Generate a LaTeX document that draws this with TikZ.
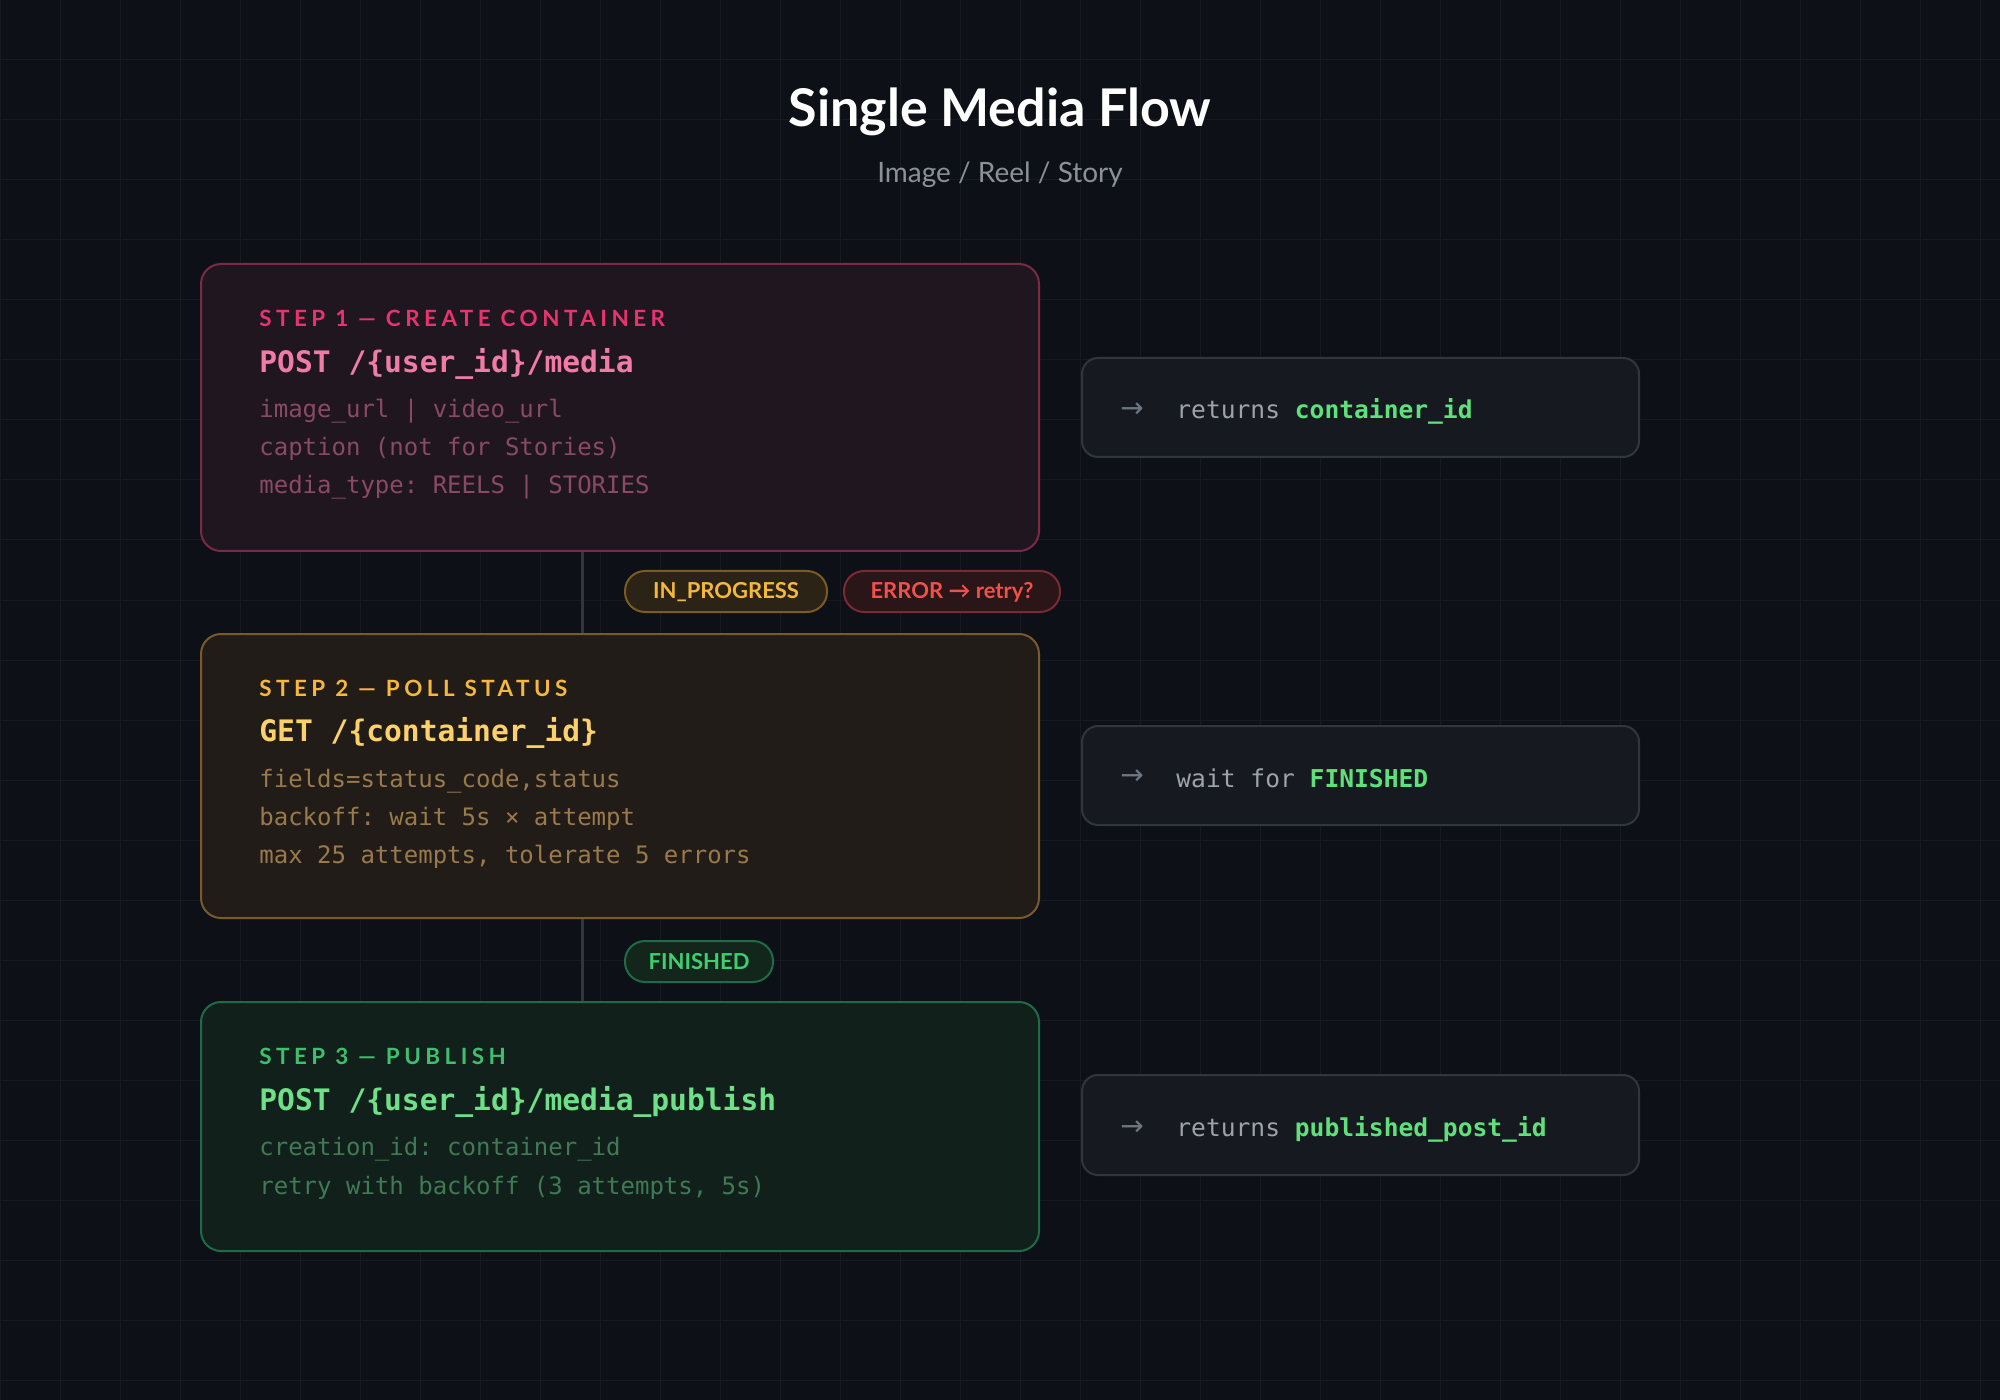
\documentclass[tikz,border=0pt]{standalone}
\usepackage{fontspec}
\setmainfont{Lato}
\setmonofont{DejaVu Sans Mono}
\newfontfamily\spaced[LetterSpace=20]{Lato}
\newfontfamily\arrowfont{DejaVu Sans}
\definecolor{bg}{HTML}{0D1117}
\definecolor{gridc}{HTML}{161B22}
\definecolor{aF}{HTML}{1F1620}\definecolor{aB}{HTML}{7A2A45}\definecolor{aL}{HTML}{E8336D}\definecolor{aE}{HTML}{F07CA5}\definecolor{aD}{HTML}{8A4A62}
\definecolor{bF}{HTML}{211C17}\definecolor{bB}{HTML}{7A5A2A}\definecolor{bL}{HTML}{F5B83D}\definecolor{bE}{HTML}{FCD06A}\definecolor{bD}{HTML}{9A7A4A}
\definecolor{cF}{HTML}{12201C}\definecolor{cB}{HTML}{1F6B45}\definecolor{cL}{HTML}{3FBF6E}\definecolor{cE}{HTML}{6EE087}\definecolor{cD}{HTML}{3F7A55}
\definecolor{rF}{HTML}{161A20}\definecolor{rB}{HTML}{30363D}\definecolor{rT}{HTML}{9DA3AA}\definecolor{rH}{HTML}{5EE07A}\definecolor{rA}{HTML}{6E7681}
\definecolor{pbF}{HTML}{2B2315}\definecolor{pbB}{HTML}{7A5C22}
\definecolor{peF}{HTML}{2A1518}\definecolor{peB}{HTML}{7A2A30}\definecolor{peT}{HTML}{F0524A}
\definecolor{pcF}{HTML}{12261C}\definecolor{pcT}{HTML}{3FCF70}
\begin{document}
\begin{tikzpicture}[x=0.5pt,y=-0.5pt,
  card/.style={rounded corners=10pt,line width=1pt},
  rcard/.style={rounded corners=8pt,line width=1pt,draw=rB,fill=rF},
  lbl/.style={anchor=west,inner sep=0pt,font=\spaced\bfseries\fontsize{11.2pt}{13pt}\selectfont},
  endp/.style={anchor=west,inner sep=0pt,font=\ttfamily\bfseries\fontsize{14.8pt}{17pt}\selectfont},
  det/.style={anchor=west,inner sep=0pt,font=\ttfamily\fontsize{12pt}{14pt}\selectfont},
  rtxt/.style={anchor=west,inner sep=0pt,font=\ttfamily\fontsize{12.3pt}{14pt}\selectfont,text=rT},
  rarr/.style={anchor=west,inner sep=0pt,font=\arrowfont\fontsize{14pt}{16pt}\selectfont,text=rA},
  pill/.style={rounded corners=10pt,line width=1pt},
  ptxt/.style={inner sep=0pt,font=\bfseries\fontsize{11pt}{13pt}\selectfont},
  conn/.style={draw=rB,line width=1.5pt}]
\fill[bg] (0,0) rectangle (2000,1400);
\useasboundingbox (0,0) rectangle (2000,1400);
\foreach \g in {0,60,...,2000} \draw[gridc,line width=0.5pt] (\g,0) -- (\g,1400);
\foreach \g in {0,60,...,1400} \draw[gridc,line width=0.5pt] (0,\g) -- (2000,\g);
\node[text=white,font=\bfseries\fontsize{26pt}{30pt}\selectfont] (title) at (1000,112) {Single Media Flow};
\node[text=rA!80!white,font=\fontsize{14pt}{16pt}\selectfont] (sub) at (1000,175) {Image / Reel / Story};
% connectors
\coordinate (c1a) at (582,551); \coordinate (c1b) at (582,634);
\coordinate (c2a) at (582,918); \coordinate (c2b) at (582,1002);
\draw[conn] (c1a) -- (c1b);
\draw[conn] (c2a) -- (c2b);
% step boxes
\draw[card,draw=aB,fill=aF] (201,264) rectangle (1039,551);
\node[lbl,text=aL] (l1) at (259,318) {STEP 1 — CREATE CONTAINER};
\node[endp,text=aE] (e1) at (259,364) {POST /\{user\_id\}/media};
\node[det,text=aD] (d1a) at (259,411) {image\_url | video\_url};
\node[det,text=aD] (d1b) at (259,449) {caption (not for Stories)};
\node[det,text=aD] (d1c) at (259,487) {media\_type: REELS | STORIES};
\draw[card,draw=bB,fill=bF] (201,634) rectangle (1039,918);
\node[lbl,text=bL] (l2) at (259,688) {STEP 2 — POLL STATUS};
\node[endp,text=bE] (e2) at (259,733) {GET /\{container\_id\}};
\node[det,text=bD] (d2a) at (259,781) {fields=status\_code,status};
\node[det,text=bD] (d2b) at (259,819) {backoff: wait 5s × attempt};
\node[det,text=bD] (d2c) at (259,857) {max 25 attempts, tolerate 5 errors};
\draw[card,draw=cB,fill=cF] (201,1002) rectangle (1039,1251);
\node[lbl,text=cL] (l3) at (259,1056) {STEP 3 — PUBLISH};
\node[endp,text=cE] (e3) at (259,1102) {POST /\{user\_id\}/media\_publish};
\node[det,text=cD] (d3a) at (259,1149) {creation\_id: container\_id};
\node[det,text=cD] (d3b) at (259,1188) {retry with backoff (3 attempts, 5s)};
% right boxes
\draw[rcard] (1082,358) rectangle (1639,457);
\node[rarr] (a1) at (1120,410) {→};
\node[rtxt] (r1) at (1176,411) {returns \textcolor{rH}{\bfseries container\_id}};
\draw[rcard] (1082,726) rectangle (1639,825);
\node[rarr] (a2) at (1120,777) {→};
\node[rtxt] (r2) at (1176,778) {wait for \textcolor{rH}{\bfseries FINISHED}};
\draw[rcard] (1082,1075) rectangle (1639,1175);
\node[rarr] (a3) at (1120,1128) {→};
\node[rtxt] (r3) at (1176,1129) {returns \textcolor{rH}{\bfseries published\_post\_id}};
% pills
\draw[pill,draw=pbB,fill=pbF] (625,571) rectangle (827,612);
\node[ptxt,text=bL] (p1) at (726,592) {IN\_PROGRESS};
\draw[pill,draw=peB,fill=peF] (844,571) rectangle (1060,612);
\node[ptxt,text=peT] (p2) at (952,592) {ERROR → retry?};
\draw[pill,draw=cB,fill=pcF] (625,941) rectangle (773,982);
\node[ptxt,text=pcT] (p3) at (699,962) {FINISHED};
\end{tikzpicture}
\end{document}
